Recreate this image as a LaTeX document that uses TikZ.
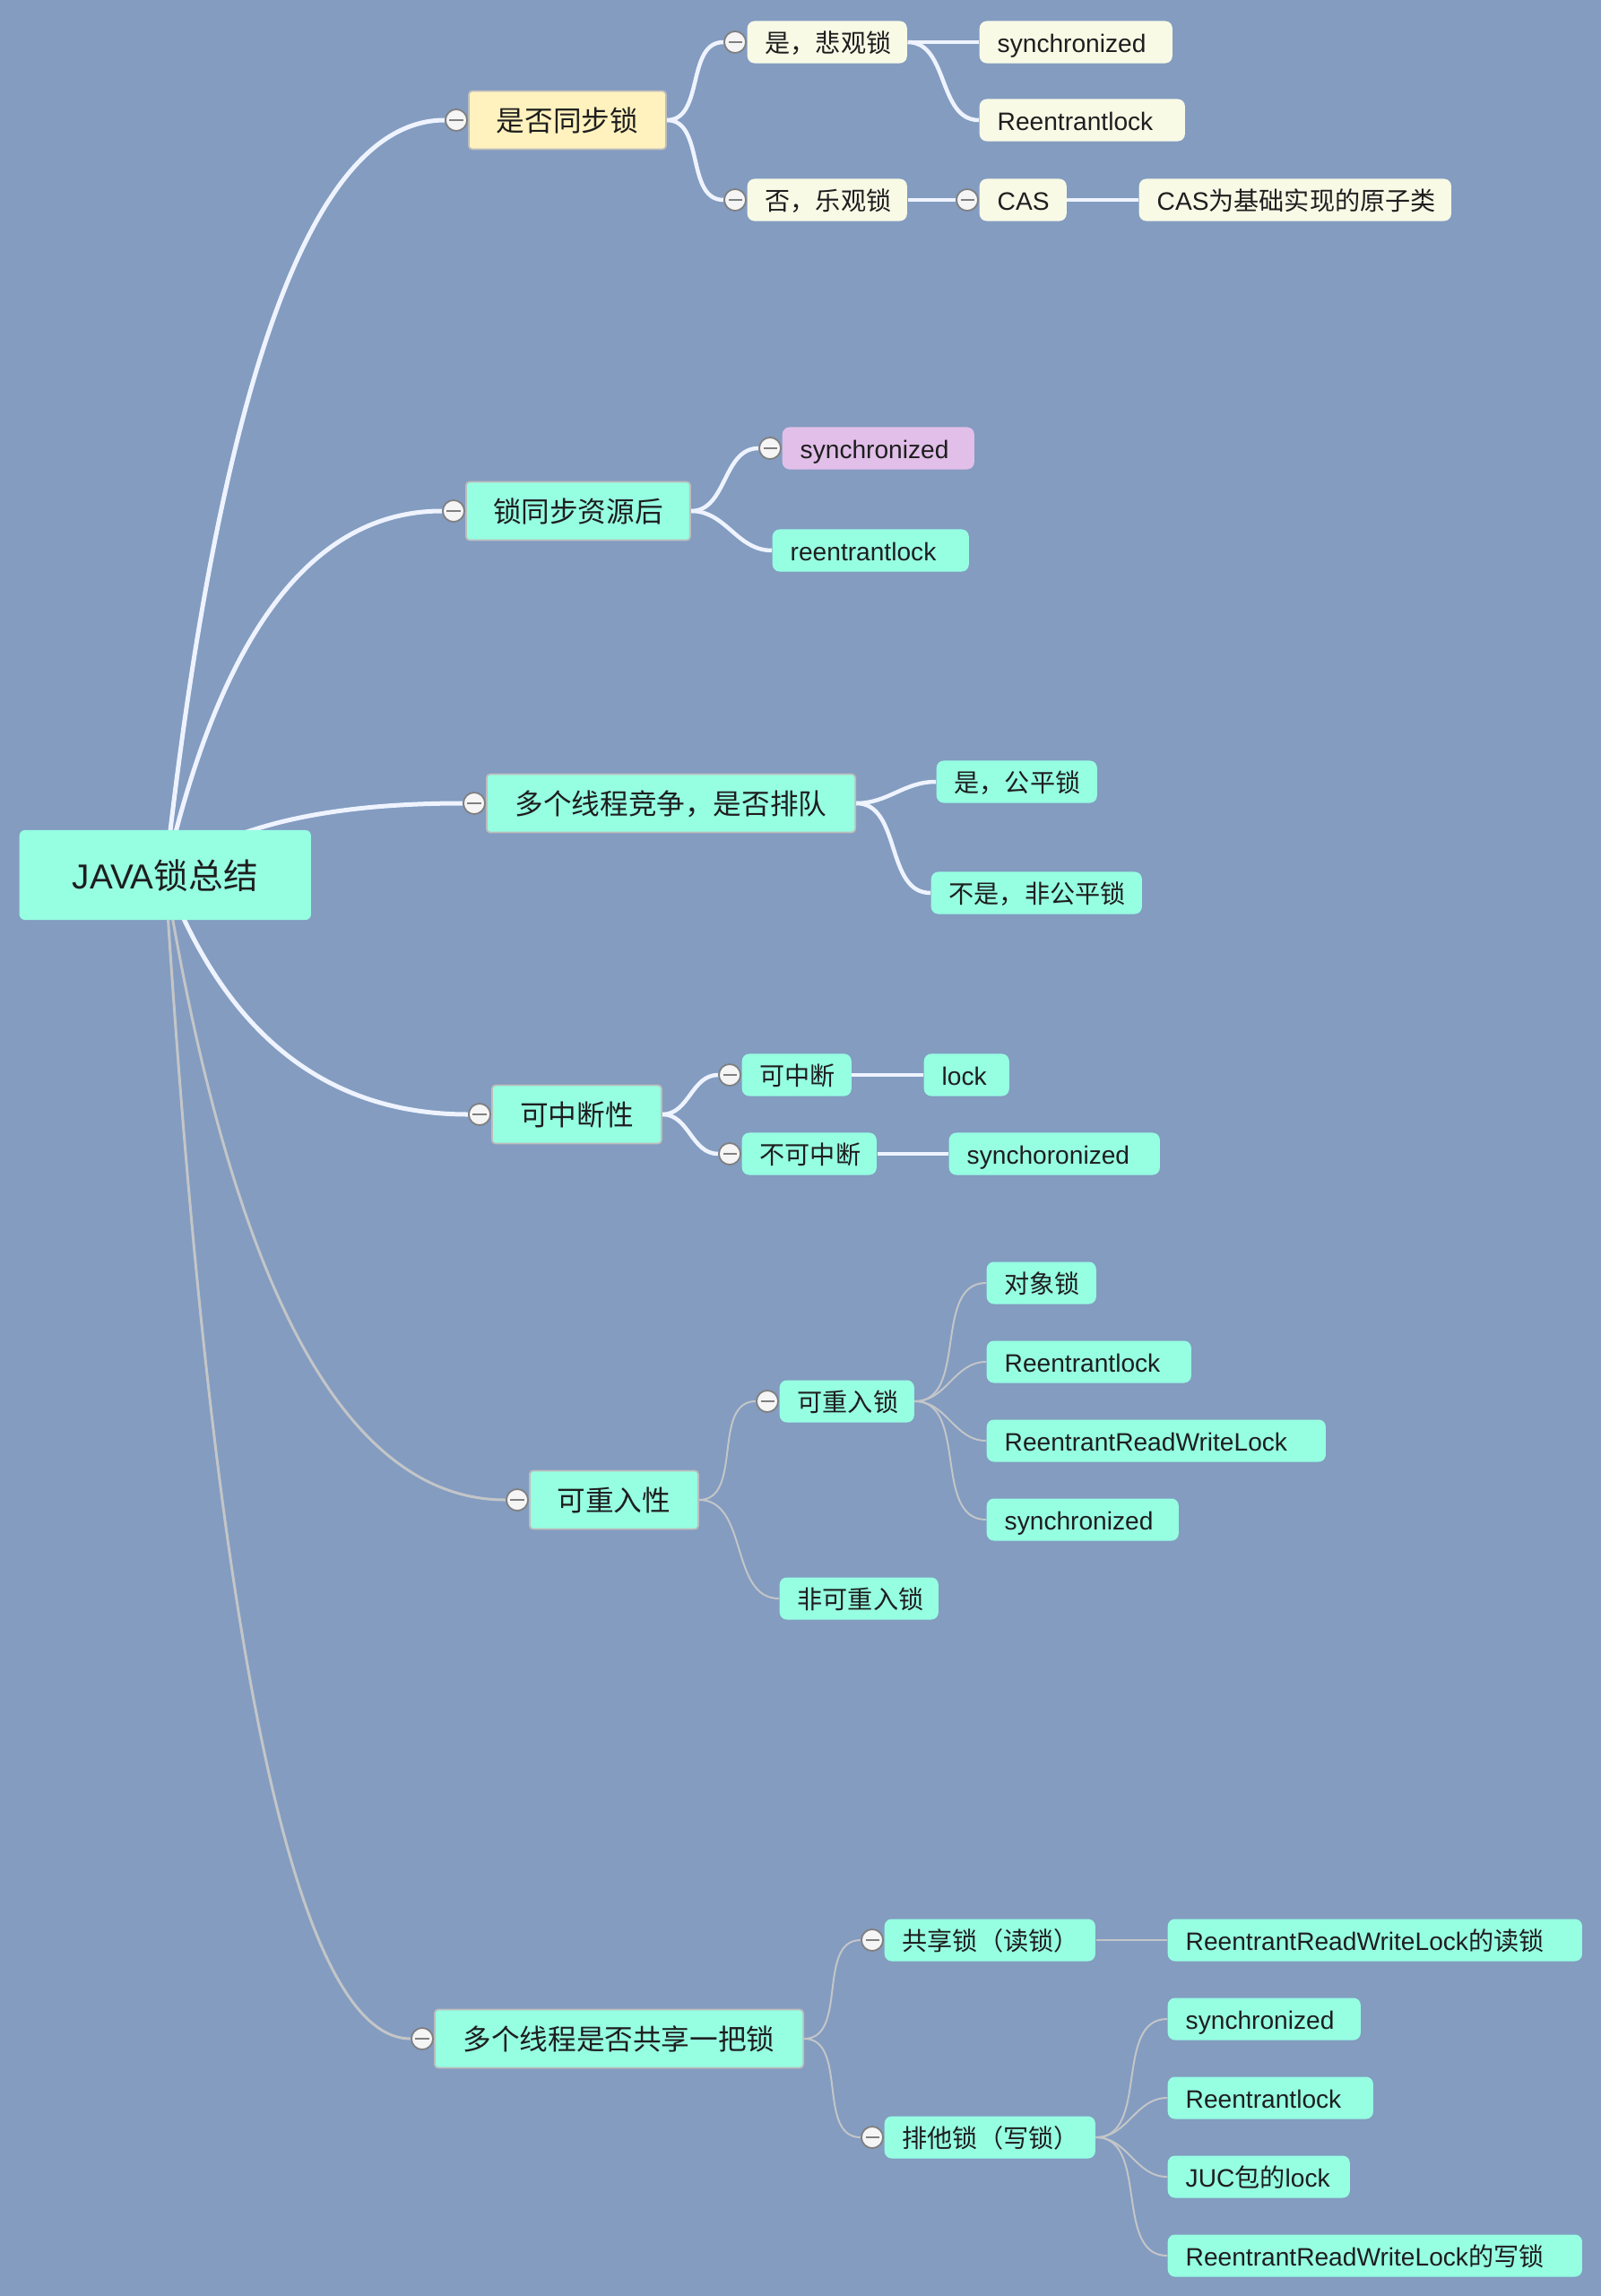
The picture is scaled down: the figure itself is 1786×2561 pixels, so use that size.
\documentclass[tikz,border=0pt]{standalone}
\usepackage{fontspec}
\setmainfont{Noto Sans CJK SC}
\newfontfamily\lat{Liberation Sans}
\usetikzlibrary{calc,backgrounds}

\definecolor{bgblue}{HTML}{839CC0}
\definecolor{mint}{HTML}{96FFE2}
\definecolor{topicyel}{HTML}{FFF2BE}
\definecolor{subyel}{HTML}{F8FAE6}
\definecolor{subpur}{HTML}{E1BFE8}
\definecolor{wline}{HTML}{EEF3FF}
\definecolor{gline}{HTML}{C3C5C8}
\definecolor{frame}{HTML}{BDBDBD}
\definecolor{ink}{HTML}{1E1E1E}
\definecolor{foldline}{HTML}{7F7F7F}

\tikzset{
  box/.style={anchor=west, inner sep=0pt, text=ink},
  rootbox/.style={box, fill=mint, rounded corners=0.06cm, minimum width=3.25cm,
    minimum height=1cm, text height=11pt, text depth=2.2pt,
    font=\fontsize{11pt}{13pt}\selectfont},
  topic/.style={box, draw=frame, line width=0.5pt, rounded corners=0.04cm,
    minimum height=0.65cm, text height=9pt, text depth=1.8pt,
    font=\fontsize{9pt}{11pt}\selectfont},
  sub/.style={box, rounded corners=0.08cm, minimum height=0.47cm, inner xsep=0.2cm,
    text height=8pt, text depth=1.6pt, align=left,
    font=\fontsize{8pt}{10pt}\selectfont},
  fold/.style={circle, draw=foldline, fill=white!96!black, line width=0.5pt,
    minimum size=0.24cm, inner sep=0pt,
    path picture={\draw[foldline, line width=0.6pt]
      ([xshift=-0.075cm]path picture bounding box.center) --
      ([xshift=0.075cm]path picture bounding box.center);}},
}

\begin{document}
\begin{tikzpicture}[x=0.01cm, y=-0.01cm]
  \def \Topics{
    t1/522/134/220/topicyel/是否同步锁,
    t2/519/570/250/mint/锁同步资源后,
    t3/542/896/411/mint/多个线程竞争，是否排队,
    t4/548/1243/189/mint/可中断性,
    t5/590/1673/188/mint/可重入性,
    t6/484/2274/411/mint/多个线程是否共享一把锁}
  \def \Subs{
    a1/833/47/178/subyel/是，悲观锁,
    a2/833/223/178/subyel/否，乐观锁,
    a11/1092/47/215/subyel/{\lat synchronized},
    a12/1092/134/229/subyel/{\lat Reentrantlock},
    a21/1092/223/97/subyel/{\lat CAS},
    a211/1270/223/348/subyel/{\lat CAS}为基础实现的原子类,
    b1/872/500/214/subpur/{\lat synchronized},
    b2/861/614/219/mint/{\lat reentrantlock},
    c1/1044/872/179/mint/是，公平锁,
    c2/1038/996/235/mint/不是，非公平锁,
    d1/827/1199/122/mint/可中断,
    d2/827/1287/150/mint/不可中断,
    d11/1030/1199/95/mint/{\lat lock},
    d21/1058/1287/235/mint/{\lat synchoronized},
    e1/869/1563/150/mint/可重入锁,
    e2/869/1783/177/mint/非可重入锁,
    e11/1100/1431/122/mint/对象锁,
    e12/1100/1519/228/mint/{\lat Reentrantlock},
    e13/1100/1607/378/mint/{\lat ReentrantReadWriteLock},
    e14/1100/1695/214/mint/{\lat synchronized},
    f1/986/2164/235/mint/共享锁（读锁）,
    f2/986/2384/235/mint/排他锁（写锁）,
    f11/1302/2164/462/mint/{\lat ReentrantReadWriteLock}的读锁,
    f21/1302/2252/215/mint/{\lat synchronized},
    f22/1302/2340/229/mint/{\lat Reentrantlock},
    f23/1302/2428/203/mint/{\lat JUC}包的{\lat lock},
    f24/1302/2516/462/mint/{\lat ReentrantReadWriteLock}的写锁}
  \def \Trunks{
    t1/wline/0.05, t2/wline/0.05, t3/wline/0.05, t4/wline/0.05,
    t5/gline/0.03, t6/gline/0.03}
  \def \WhiteEdges{
    t1/a1-f, t1/a2-f, a1/a11, a1/a12, a2/a21-f, a21/a211,
    t2/b1-f, t2/b2, t3/c1, t3/c2,
    t4/d1-f, t4/d2-f, d1/d11, d2/d21}
  \def \GrayEdges{
    t5/e1-f, t5/e2, e1/e11, e1/e12, e1/e13, e1/e14,
    t6/f1-f, t6/f2-f, f1/f11, f2/f21, f2/f22, f2/f23, f2/f24}

  % boxes
  \node[rootbox] (root) at (21,976) {{\lat JAVA}锁总结};
  \foreach \id / \x / \y / \w / \col / \txt [evaluate=\w as \tw using \w/100] in \Topics{
    \node[topic, fill=\col, minimum width=\tw cm] (\id) at (\x,\y) {\txt};
  }
  \foreach \id / \x / \y / \w / \col / \txt [evaluate=\w as \tw using (\w-40)/100] in \Subs{
    \node[sub, fill=\col, text width=\tw cm] (\id) at (\x,\y) {\mbox{\txt}};
  }
  \foreach \id in {t1,t2,t3,t4,t5,t6,a1,a2,a21,b1,d1,d2,e1,f1,f2}{
    \node[fold] (\id-f) at ([xshift=-0.13cm]\id.west) {};
  }

  % connectors
  \begin{scope}[on background layer]
    \fill[bgblue] (0,0) rectangle (1786,2561);
    \foreach \b / \c / \lw in \Trunks{
      \draw[draw=\c, line width=\lw cm] let \p1=(root.center), \p2=(\b-f.west) in
        (\p1) .. controls ({\x1+0.2*(\x2-\x1)},{\y1+0.667*(\y2-\y1)})
        and ({\x1+0.533*(\x2-\x1)},\y2) .. (\p2);
    }
    \foreach \a / \b in \WhiteEdges{
      \draw[wline, line width=0.045cm] (\a.east) to[out=0,in=180] (\b.west);
    }
    \foreach \a / \b in \GrayEdges{
      \draw[gline, line width=0.02cm] (\a.east) to[out=0,in=180] (\b.west);
    }
  \end{scope}
\end{tikzpicture}
\end{document}
